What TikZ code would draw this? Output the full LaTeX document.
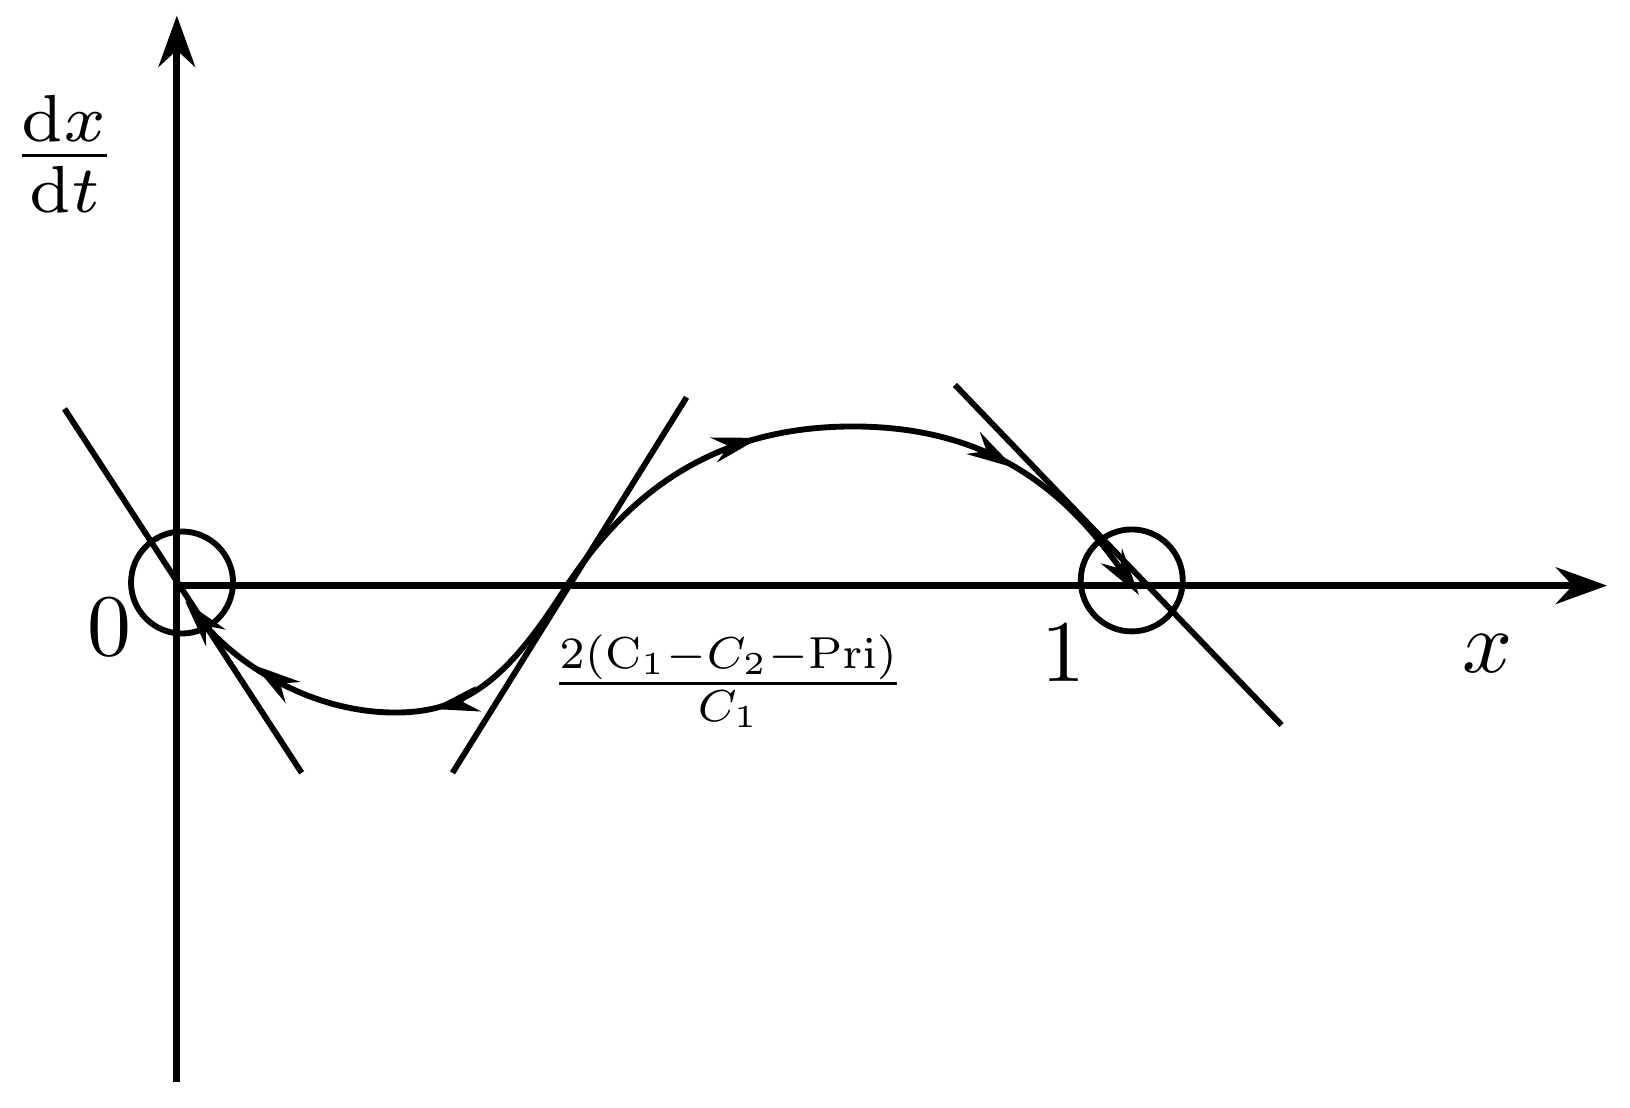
\documentclass[tikz,border=0pt]{standalone}
\usetikzlibrary{arrows.meta,decorations.markings}
\begin{document}
\begin{tikzpicture}[x=0.01cm,y=-0.01cm,
  ln/.style={line width=1.6pt},
  axis/.style={line width=2pt,-{Stealth[length=14pt,width=10pt]}},
  mk/.style={postaction={decorate},decoration={markings,#1}},
  tip/.style={-{Stealth[length=13pt,width=7pt]}}]
\useasboundingbox (0,0) rectangle (1567,1065);
\coordinate (o) at (170,1040);
\coordinate (ytop) at (170,15);
\coordinate (xo) at (170,563);
\coordinate (xend) at (1545,563);
\draw[axis] (o) -- (ytop);
\draw[axis] (xo) -- (xend);
\node[circle,draw,line width=1.6pt,minimum size=0.98cm] (c0) at (175,560) {};
\node[circle,draw,line width=1.6pt,minimum size=0.98cm] (c1) at (1088,558) {};
\coordinate (a1) at (62,393); \coordinate (a2) at (290,743);
\coordinate (b1) at (660,382); \coordinate (b2) at (435,743);
\coordinate (d1) at (918,370); \coordinate (d2) at (1232,697);
\draw[ln] (a1) -- (a2);
\draw[ln] (b1) -- (b2);
\draw[ln] (d1) -- (d2);
\coordinate (m) at (545,563);
\coordinate (e0) at (178,578);
\coordinate (e1) at (1095,572);
\draw[ln,tip,mk={mark=at position 0.4 with {\arrow{Stealth[length=13pt,width=7pt]}},mark=at position 0.8 with {\arrow{Stealth[length=13pt,width=7pt]}}}]
  (m) .. controls (490,650) and (450,685) .. (380,685) .. controls (300,685) and (230,640) .. (e0);
\draw[ln,tip,mk={mark=at position 0.36 with {\arrow{Stealth[length=13pt,width=7pt]}},mark=at position 0.74 with {\arrow{Stealth[length=13pt,width=7pt]}}}]
  (m) .. controls (600,480) and (680,410) .. (820,410) .. controls (960,410) and (1030,480) .. (e1);
\node[scale=2.6] (dxdt) at (62,148) {$\frac{\mathrm{d}x}{\mathrm{d}t}$};
\node[scale=2.4] (l0) at (105,603) {$0$};
\node[scale=2.4] (l1) at (1022,628) {$1$};
\node[scale=2.4] (lx) at (1430,628) {$x$};
\node[scale=1.75] (fr) at (700,655) {$\frac{2(\mathrm{C}_1-C_2-\mathrm{Pri})}{C_1}$};
\end{tikzpicture}
\end{document}
